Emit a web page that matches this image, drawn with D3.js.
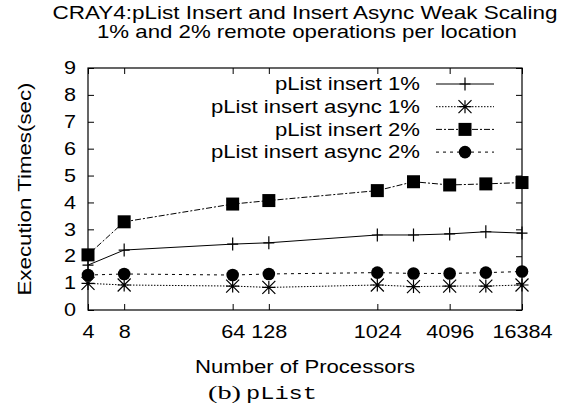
<!DOCTYPE html>
<html>
<head>
<meta charset="utf-8">
<script src="https://cdn.jsdelivr.net/npm/d3@7"></script>
<style>
  body { margin: 0; background: #fff; }
  svg { display: block; font-family: "Liberation Sans", Arial, sans-serif; }
</style>
</head>
<body>
<svg id="chart"></svg>
<script>
const width = 574;
const height = 418;

// data
const processors = [4, 8, 64, 128, 1024, 2048, 4096, 8192, 16384];
const xTicks = [4, 8, 64, 128, 1024, 4096, 16384];
const yTicks = [0, 1, 2, 3, 4, 5, 6, 7, 8, 9];
const insert1 = [1.67, 2.23, 2.45, 2.50, 2.79, 2.79, 2.83, 2.91, 2.86];
const async1 = [0.99, 0.93, 0.89, 0.84, 0.93, 0.87, 0.89, 0.89, 0.93];
const insert2 = [2.05, 3.28, 3.94, 4.07, 4.44, 4.77, 4.65, 4.69, 4.74];
const async2 = [1.30, 1.34, 1.30, 1.34, 1.39, 1.36, 1.36, 1.39, 1.43];
const seriesNames = ["pList insert 1%", "pList insert async 1%", "pList insert 2%", "pList insert async 2%"];

const series = [
  {name: seriesNames[0], values: insert1, dash: null, marker: "plus", w: 145},
  {name: seriesNames[1], values: async1, dash: "1.5,1.5", marker: "star", w: 209},
  {name: seriesNames[2], values: insert2, dash: "6,2,2,2", marker: "square", w: 145},
  {name: seriesNames[3], values: async2, dash: "3,4", marker: "circle", w: 209}
];

const margin = {top: 68, right: 52, bottom: 108, left: 88};
const fontSize = "18px";
const stretch = 1.2;

let svg = d3.select("#chart")
            .attr("width", width)
            .attr("height", height);

let x = d3.scaleLog().base(2)
          .domain([4, 16384])
          .range([margin.left, width - margin.right]);

let y = d3.scaleLinear()
          .domain([0, 9])
          .range([height - margin.bottom, margin.top]);

//title
svg.append("text")
  .attr("text-anchor", "middle")
  .attr("x", 305).attr("y", 19)
  .attr("textLength", 505).attr("lengthAdjust", "spacingAndGlyphs")
  .style("font-size", "18.5px")
  .text("CRAY4:pList Insert and Insert Async Weak Scaling");
svg.append("text")
  .attr("text-anchor", "middle")
  .attr("x", 307).attr("y", 38)
  .attr("textLength", 420).attr("lengthAdjust", "spacingAndGlyphs")
  .style("font-size", "18.5px")
  .text("1% and 2% remote operations per location");

//axes with inward ticks, mirrored
const tickLen = 6;
let xAxis = d3.axisBottom(x).tickValues(xTicks).tickFormat(d3.format("d"))
              .tickSizeInner(-tickLen).tickSizeOuter(0).tickPadding(15);
let xAxisTop = d3.axisTop(x).tickValues(xTicks).tickFormat("")
              .tickSizeInner(-tickLen).tickSizeOuter(0);
let yAxis = d3.axisLeft(y).tickValues(yTicks)
              .tickSizeInner(-tickLen).tickSizeOuter(0);
let yAxisRight = d3.axisRight(y).tickValues(yTicks).tickFormat("")
              .tickSizeInner(-tickLen).tickSizeOuter(0);

function styleAxis(g) {
  g.select(".domain").remove();
  g.selectAll("line").attr("stroke", "#000");
  g.selectAll("text").style("font-size", fontSize).attr("fill", "#000")
    .style("font-family", "Liberation Sans, Arial, sans-serif");
}

svg.append("g").attr("transform", `translate(0,${height - margin.bottom})`).call(xAxis).call(styleAxis)
  .selectAll("text").attr("transform", `scale(${stretch},1)`);
svg.append("g").attr("transform", `translate(0,${margin.top})`).call(xAxisTop).call(styleAxis);
svg.append("g").attr("transform", `translate(${margin.left},0)`).call(yAxis).call(styleAxis)
  .selectAll("text").attr("x", null).attr("transform", `translate(-12,0) scale(${stretch},1)`);
svg.append("g").attr("transform", `translate(${width - margin.right},0)`).call(yAxisRight).call(styleAxis);

svg.append("rect")
  .attr("x", margin.left).attr("y", margin.top)
  .attr("width", width - margin.left - margin.right)
  .attr("height", height - margin.top - margin.bottom)
  .attr("fill", "none").attr("stroke", "#000").attr("stroke-width", 1.2);

//axis labels
svg.append("text")
  .attr("text-anchor", "middle")
  .attr("transform", `translate(31,${(margin.top + height - margin.bottom) / 2}) rotate(-90)`)
  .attr("textLength", 213).attr("lengthAdjust", "spacingAndGlyphs")
  .style("font-size", fontSize)
  .text("Execution Times(sec)");

svg.append("text")
  .attr("text-anchor", "middle")
  .attr("x", 305).attr("y", 373)
  .attr("textLength", 220).attr("lengthAdjust", "spacingAndGlyphs")
  .style("font-size", fontSize)
  .text("Number of Processors");

svg.append("text")
  .attr("x", 208).attr("y", 399)
  .attr("textLength", 33).attr("lengthAdjust", "spacingAndGlyphs")
  .style("font-family", "Liberation Serif, serif")
  .style("font-size", "19px")
  .text("(b)");
svg.append("text")
  .attr("x", 246).attr("y", 399)
  .attr("textLength", 71).attr("lengthAdjust", "spacingAndGlyphs")
  .style("font-family", "Liberation Mono, monospace")
  .style("font-size", "19px")
  .text("pList");

//markers
function drawMarker(g, type, cx, cy) {
  if (type === "plus") {
    g.append("path").attr("d", `M${cx - 5.5},${cy}H${cx + 5.5}M${cx},${cy - 6.5}V${cy + 6.5}`)
      .attr("stroke", "#000").attr("stroke-width", 1.2).attr("fill", "none");
  } else if (type === "star") {
    let r = 6.5;
    g.append("path")
      .attr("d", `M${cx - r},${cy}H${cx + r}M${cx - r},${cy - r}L${cx + r},${cy + r}M${cx - r},${cy + r}L${cx + r},${cy - r}M${cx},${cy - r}V${cy + r}`)
      .attr("stroke", "#000").attr("stroke-width", 1.2).attr("fill", "none");
  } else if (type === "square") {
    g.append("rect").attr("x", cx - 6.5).attr("y", cy - 6.5).attr("width", 13).attr("height", 13).attr("fill", "#000");
  } else {
    g.append("circle").attr("cx", cx).attr("cy", cy).attr("r", 6.3).attr("fill", "#000");
  }
}

let line = d3.line()
  .x(d => x(d[0]))
  .y(d => y(d[1]));

let plot = svg.append("g");
series.forEach(s => {
  let pts = processors.map((p, i) => [p, s.values[i]]);
  plot.append("path")
    .datum(pts)
    .attr("d", line)
    .attr("fill", "none")
    .attr("stroke", "#000")
    .attr("stroke-width", 1)
    .attr("stroke-dasharray", s.dash);
  pts.forEach(p => drawMarker(plot, s.marker, x(p[0]), y(p[1])));
});

//legend
let legend = svg.append("g");
series.forEach((s, i) => {
  let ly = 84 + i * 22.7;
  legend.append("text")
    .attr("x", 420).attr("y", ly)
    .attr("dy", "0.35em")
    .attr("text-anchor", "end")
    .attr("textLength", s.w).attr("lengthAdjust", "spacingAndGlyphs")
    .style("font-size", fontSize)
    .text(s.name);
  legend.append("line")
    .attr("x1", 436).attr("x2", 494)
    .attr("y1", ly).attr("y2", ly)
    .attr("stroke", "#000")
    .attr("stroke-dasharray", s.dash);
  drawMarker(legend, s.marker, 465, ly);
});
</script>
</body>
</html>
